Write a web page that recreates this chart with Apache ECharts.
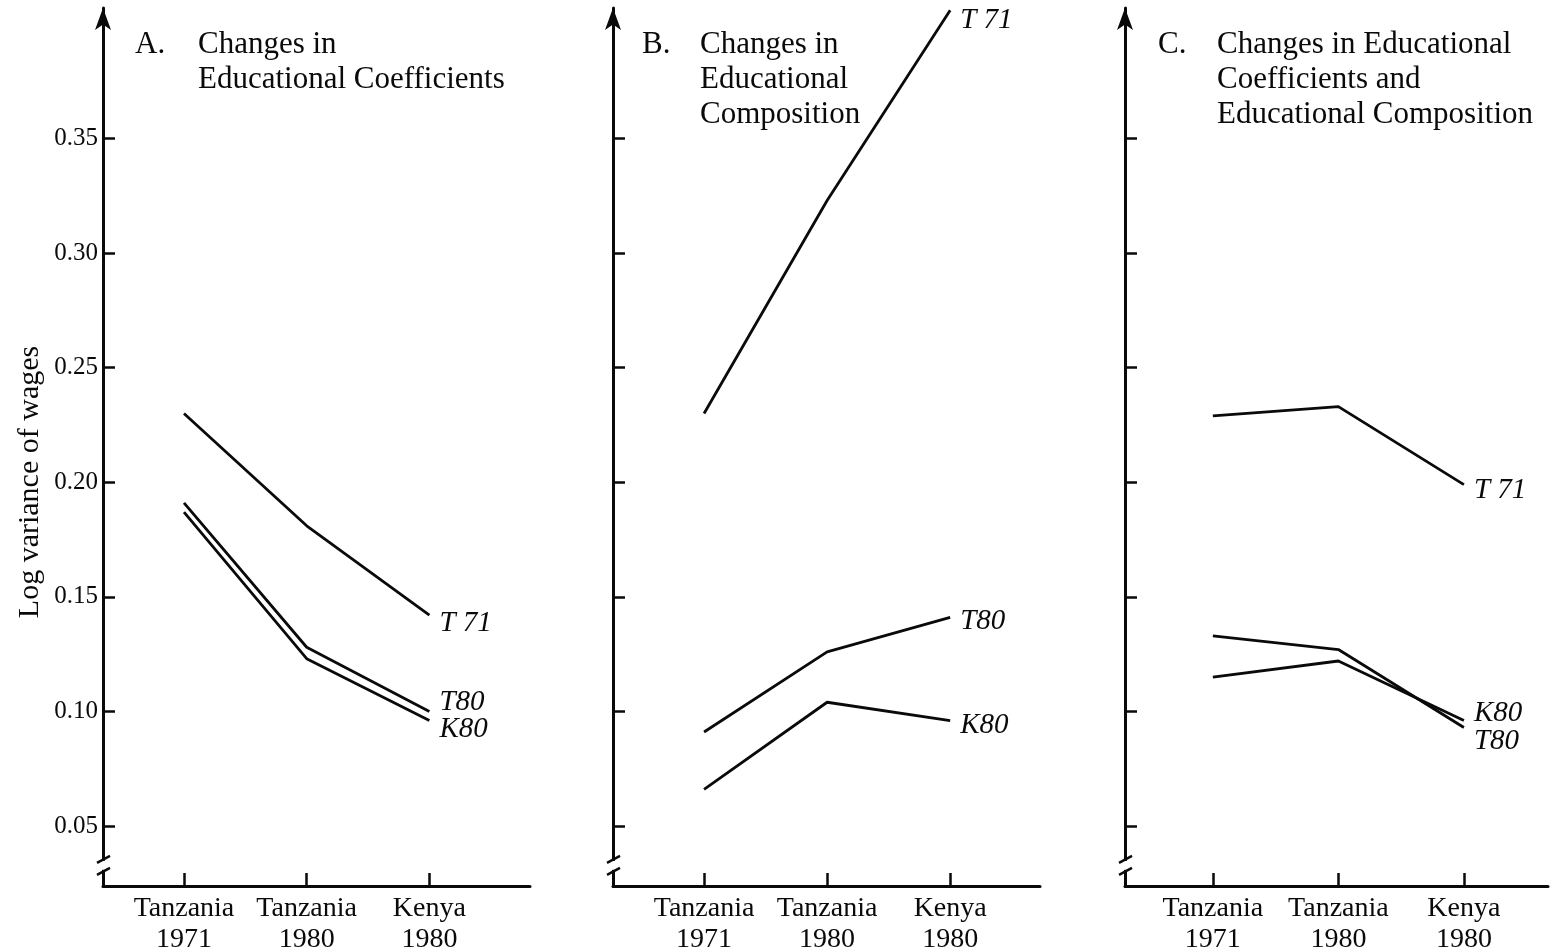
<!DOCTYPE html>
<html>
<head>
<meta charset="utf-8">
<script src="https://cdn.jsdelivr.net/npm/echarts@6/dist/echarts.min.js"></script>
<style>
html, body { margin: 0; padding: 0; background: #fff; }
#main { width: 1559px; height: 951px; }
</style>
</head>
<body>
<div id="main"></div>
<script>
var chart = echarts.init(document.getElementById('main'));

// x positions 1..3 = the three wage structures
var categories = ['Tanzania\n1971', 'Tanzania\n1980', 'Kenya\n1980'];
var yTicks = [0.05, 0.10, 0.15, 0.20, 0.25, 0.30, 0.35];

// A. Changes in educational coefficients
var aT71 = [0.230, 0.181, 0.142];
var aT80 = [0.191, 0.128, 0.100];
var aK80 = [0.187, 0.123, 0.096];
// B. Changes in educational composition
var bT71 = [0.230, 0.323, 0.406];
var bT80 = [0.091, 0.126, 0.141];
var bK80 = [0.066, 0.104, 0.096];
// C. Both
var cT71 = [0.229, 0.233, 0.199];
var cT80 = [0.133, 0.127, 0.093];
var cK80 = [0.115, 0.122, 0.096];

var serif = '"Liberation Serif", "DejaVu Serif", serif';
var ink = '#0a0a0a';
var yMin = 0.0238, yMax = 0.407;

var panels = [
    {left: 103, right: 1029, xMin: 0.34, xMax: 3.82, labels: true,
     series: [['T 71', aT71, [0, 8]], ['T80', aT80, [0, -9]], ['K80', aK80, [0, 9]]]},
    {left: 613, right: 519, xMin: 0.26, xMax: 3.73, labels: false,
     series: [['T 71', bT71, [0, 10]], ['T80', bT80, [0, 4]], ['K80', bK80, [0, 5]]]},
    {left: 1125, right: 11, xMin: 0.30, xMax: 3.67, labels: false,
     series: [['T 71', cT71, [0, 6]], ['T80', cT80, [0, 14]], ['K80', cK80, [0, -7]]]}
];

var toPoints = function (vals) {
    return vals.map(function (v, i) { return [i + 1, v]; });
};

var grid = [], xAxis = [], yAxis = [], series = [];
panels.forEach(function (p, i) {
    grid.push({left: p.left, right: p.right, top: 8, bottom: 65,
               containLabel: false, outerBoundsMode: 'none'});
    xAxis.push({
        type: 'value', gridIndex: i, min: p.xMin, max: p.xMax,
        splitLine: {show: false},
        axisLine: {lineStyle: {color: ink, width: 3}},
        axisTick: {show: true, inside: true, length: 13, customValues: [1, 2, 3],
                   lineStyle: {color: ink, width: 2.5}},
        axisLabel: {
            customValues: [1, 2, 3], margin: 7,
            formatter: function (v) { return categories[Math.round(v) - 1]; },
            fontFamily: serif, fontSize: 28, lineHeight: 31, color: ink
        }
    });
    yAxis.push({
        type: 'value', gridIndex: i, min: yMin, max: yMax,
        splitLine: {show: false},
        axisLine: {show: true, symbol: ['none', 'arrow'], symbolSize: [12, 22],
                   lineStyle: {color: ink, width: 3}},
        axisTick: {show: true, inside: true, length: 12, customValues: yTicks,
                   lineStyle: {color: ink, width: 2.5}},
        axisLabel: {
            show: p.labels, customValues: yTicks, margin: 5,
            formatter: function (v) { return v.toFixed(2); },
            fontFamily: serif, fontSize: 25, color: ink
        }
    });
    p.series.forEach(function (s) {
        series.push({
            type: 'line', name: s[0], xAxisIndex: i, yAxisIndex: i,
            data: toPoints(s[1]), symbol: 'none', clip: false, silent: true,
            lineStyle: {color: ink, width: 2.8},
            endLabel: {show: true, formatter: '{a}', offset: s[2], distance: 10,
                       fontFamily: serif, fontStyle: 'italic', fontSize: 29, color: ink}
        });
    });
});

var titleStyle = {fontFamily: serif, fontSize: 31, fontWeight: 'normal', color: ink, lineHeight: 35};
var title = [
    {text: 'A.', left: 135, top: 27},
    {text: 'Changes in\nEducational Coefficients', left: 198, top: 27},
    {text: 'B.', left: 642, top: 27},
    {text: 'Changes in\nEducational\nComposition', left: 700, top: 27},
    {text: 'C.', left: 1158, top: 27},
    {text: 'Changes in Educational\nCoefficients and\nEducational Composition', left: 1217, top: 27}
].map(function (t) { t.padding = 0; t.textStyle = titleStyle; return t; });

option = {
    animation: false,
    backgroundColor: '#fff',
    title: title,
    grid: grid,
    xAxis: xAxis,
    yAxis: yAxis,
    series: series
};
chart.setOption(option);

// axis break marks and the y axis name
var g = [];
panels.forEach(function (p, i) {
    var pt = chart.convertToPixel({xAxisIndex: i, yAxisIndex: i}, [p.xMin, 0.0326]);
    g.push({type: 'rect', shape: {x: pt[0] - 4, y: pt[1] - 5, width: 8, height: 9}, style: {fill: '#fff'}, z: 100});
    g.push({type: 'line', shape: {x1: pt[0] - 6, y1: pt[1] - 3, x2: pt[0] + 7, y2: pt[1] - 10},
            style: {stroke: ink, lineWidth: 2.5}, z: 101});
    g.push({type: 'line', shape: {x1: pt[0] - 6, y1: pt[1] + 9, x2: pt[0] + 7, y2: pt[1] + 2},
            style: {stroke: ink, lineWidth: 2.5}, z: 101});
});
g.push({
    type: 'text', x: 30, y: 482, rotation: Math.PI / 2,
    style: {text: 'Log variance of wages', fontFamily: serif, fontSize: 30, fill: ink,
            align: 'center', verticalAlign: 'middle'}
});
chart.setOption({graphic: g});
</script>
</body>
</html>
